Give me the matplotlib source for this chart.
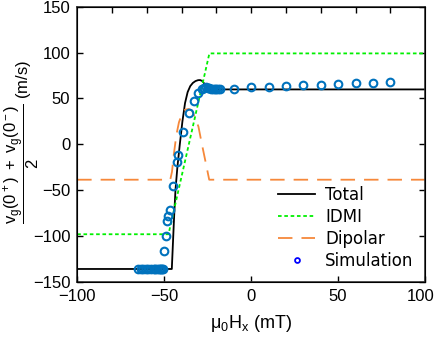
import numpy as np
import matplotlib.pyplot as plt
import matplotlib.transforms as mtransforms
from matplotlib.lines import Line2D

plt.rcParams['font.family'] = ['Liberation Sans', 'DejaVu Sans']
plt.rcParams['mathtext.fontset'] = 'custom'
plt.rcParams['mathtext.rm'] = 'Liberation Sans'
plt.rcParams['mathtext.it'] = 'Liberation Sans'
plt.rcParams['mathtext.default'] = 'regular'

# Total (analytical)
total_x = [-100, -45.6, -45.0, -44.3, -43.5, -42.4, -41.0, -39.5, -38.0, -36.5, -35.0,
           -33.5, -32.0, -30.5, -29.3, -28.0, -26.5, -25.5, -24.5, 100]
total_y = [-136, -136, -110, -80, -50, -25, 0, 25, 45, 57, 63.5,
           67, 69, 70, 70.1, 69, 65, 61, 59.9, 59.9]

# IDMI
idmi_x = [-100, -47.5, -24.0, 100]
idmi_y = [-98.1, -98.1, 99.2, 99.2]

# Dipolar
dip_x = [-100, -46.5, -45.5, -44.5, -43.0, -41.5, -40.0, -38.0, -36.0, -34.0, -32.5,
         -30.3, -28.5, -26.4, -24.1, 100]
dip_y = [-38.6, -38.6, -30, -12, 10, 24, 32, 37.8, 38.5, 37, 30,
         19.4, 2, -17.3, -38.6, -38.6]

# Simulation
sim_x = [-65, -63.5, -62, -60.5, -59, -57.5, -56, -55, -54, -53, -52.3, -51.6, -51, -50.5,
         -50, -48.8, -48.1, -47.7, -46.9, -45.2, -42.7, -42, -38.9, -36, -32.8, -30.3,
         -28.5, -27, -26, -25, -24, -23, -22, -21, -20, -19, -18,
         -10, 0, 10, 20, 30, 40, 50, 60, 70, 80]
sim_y = [-135.5, -135.5, -135.5, -135.5, -135.5, -135.5, -135.5, -135.5, -135.5, -135.5,
         -135.5, -135.5, -135.5, -135.5,
         -116.5, -100.3, -84.2, -77.9, -71.3, -45.6, -19.2, -12.1, 13.2, 33.7, 47.7, 56.2,
         60.6, 61.5, 62, 61.5, 61, 60.5, 60.3, 60.2, 60.2, 60.2, 60.2,
         60.6, 62.4, 62.8, 63.5, 64.6, 64.6, 65.4, 66.5, 67.3, 67.6]

fig = plt.figure(figsize=(4.36, 3.42), dpi=100)
ax = fig.add_axes([0.177, 0.176, 0.798, 0.804])

ax.plot(total_x, total_y, color='black', lw=1.3)
ax.plot(idmi_x, idmi_y, color='#00f000', lw=1.3, ls=(0, (2, 1.5)))
ax.plot(dip_x, dip_y, color='#f6883a', lw=1.3, ls=(0, (8, 5)))
ax.plot(sim_x, sim_y, 'o', ms=5.5, mfc='none', mec='#0072bd', mew=1.5)

ax.set_xlim(-100, 100)
ax.set_ylim(-150, 150)
ax.set_xticks([-100, -50, 0, 50, 100])
ax.set_yticks([-150, -100, -50, 0, 50, 100, 150])
ax.tick_params(direction='in', labelsize=12, length=4, width=1, right=True, pad=5)
for s in ax.spines.values():
    s.set_linewidth(1.2)
    s.set_color('#333333')

# keep the last x tick label inside the figure
last = ax.get_xticklabels()[-1]
last.set_transform(last.get_transform() +
                   mtransforms.ScaledTranslation(-4 / 100, 0, fig.dpi_scale_trans))

top = ax.twiny()
top.set_xlim(-100, 100)
top.set_xticks(np.arange(-80, 81, 20))
top.tick_params(direction='in', length=4, width=1, labeltop=False)

ax.set_xlabel(r'$\mu_0H_x$ (mT)', fontsize=13, labelpad=7)
ax.set_ylabel(r'$\dfrac{v_g(0^+)\ +\ v_g(0^-)}{2}$ (m/s)', fontsize=12)
ax.yaxis.set_label_coords(-0.10, 0.51)

handles = [Line2D([], [], color='black', lw=1.3),
           Line2D([], [], color='#00f000', lw=1.3, ls=(0, (2, 1.5))),
           Line2D([], [], color='#f6883a', lw=1.3, ls=(0, (8, 5))),
           Line2D([], [], ls='none', marker='o', ms=3.5, mfc='none', mec='blue', mew=1.3)]
ax.legend(handles, ['Total', 'IDMI', 'Dipolar', 'Simulation'], loc='lower right',
          frameon=False, prop={'family': 'DejaVu Sans', 'size': 12},
          handlelength=2.2, labelspacing=0.25, borderaxespad=0.3, handletextpad=0.6)

fig.savefig('out.png', dpi=100)
